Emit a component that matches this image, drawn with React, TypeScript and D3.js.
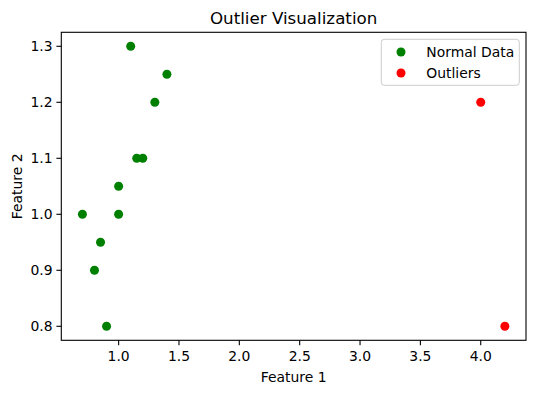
import React from "react";
import * as d3 from "d3";

const normalX = [1.1, 1.4, 1.3, 1.15, 1.2, 1.0, 0.7, 1.0, 0.85, 0.8, 0.9];
const normalY = [1.3, 1.25, 1.2, 1.1, 1.1, 1.05, 1.0, 1.0, 0.95, 0.9, 0.8];
const outlierX = [4.0, 4.2];
const outlierY = [1.2, 0.8];
const xTicks = [1.0, 1.5, 2.0, 2.5, 3.0, 3.5, 4.0];
const yTicks = [0.8, 0.9, 1.0, 1.1, 1.2, 1.3];
const legendLabels = ["Normal Data", "Outliers"];
const legendColors = ["#008000", "#ff0000"];

const W = 536, H = 393;
const L = 61.3, R = 526, T = 32.3, B = 340.3;
const FONT = "DejaVu Sans, sans-serif";

export default function App() {
  const x = d3.scaleLinear().domain([0.525, 4.375]).range([L, R]);
  const y = d3.scaleLinear().domain([0.775, 1.325]).range([B, T]);
  const r = 4.5;
  const fs = 13.9;
  return (
    <svg width={W} height={H} style={{ position: "absolute", left: 0, top: 0 }} fontFamily={FONT}>
      <rect x={0} y={0} width={W} height={H} fill="#fff" />
      <text x={(L + R) / 2} y={24} textAnchor="middle" fontSize={16.7} fill="#000">Outlier Visualization</text>
      {normalX.map((v, i) => (
        <circle key={"n" + i} cx={x(v)} cy={y(normalY[i])} r={r} fill="#008000" />
      ))}
      {outlierX.map((v, i) => (
        <circle key={"o" + i} cx={x(v)} cy={y(outlierY[i])} r={r} fill="#ff0000" />
      ))}
      <rect x={L} y={T} width={R - L} height={B - T} fill="none" stroke="#000" strokeWidth={1.1} />
      {xTicks.map((t) => (
        <g key={"x" + t}>
          <line x1={x(t)} x2={x(t)} y1={B} y2={B + 4.9} stroke="#000" strokeWidth={1.1} />
          <text x={x(t)} y={361} textAnchor="middle" fontSize={fs} fill="#000">{t.toFixed(1)}</text>
        </g>
      ))}
      {yTicks.map((t) => (
        <g key={"y" + t}>
          <line x1={L - 4.9} x2={L} y1={y(t)} y2={y(t)} stroke="#000" strokeWidth={1.1} />
          <text x={52.5} y={y(t)} dy="0.35em" textAnchor="end" fontSize={fs} fill="#000">{t.toFixed(1)}</text>
        </g>
      ))}
      <text x={(L + R) / 2} y={381.5} textAnchor="middle" fontSize={fs} fill="#000">Feature 1</text>
      <text transform={`translate(22,${(T + B) / 2}) rotate(-90)`} textAnchor="middle" fontSize={fs} fill="#000">Feature 2</text>
      <rect x={381.3} y={39.3} width={138} height={46} rx={3} fill="#fff" fillOpacity={0.8} stroke="#cccccc" strokeWidth={1} />
      {legendLabels.map((lab, i) => (
        <g key={lab}>
          <circle cx={401} cy={52 + i * 21} r={r} fill={legendColors[i]} />
          <text x={426.3} y={52 + i * 21} dy="0.35em" fontSize={fs} fill="#000">{lab}</text>
        </g>
      ))}
    </svg>
  );
}
